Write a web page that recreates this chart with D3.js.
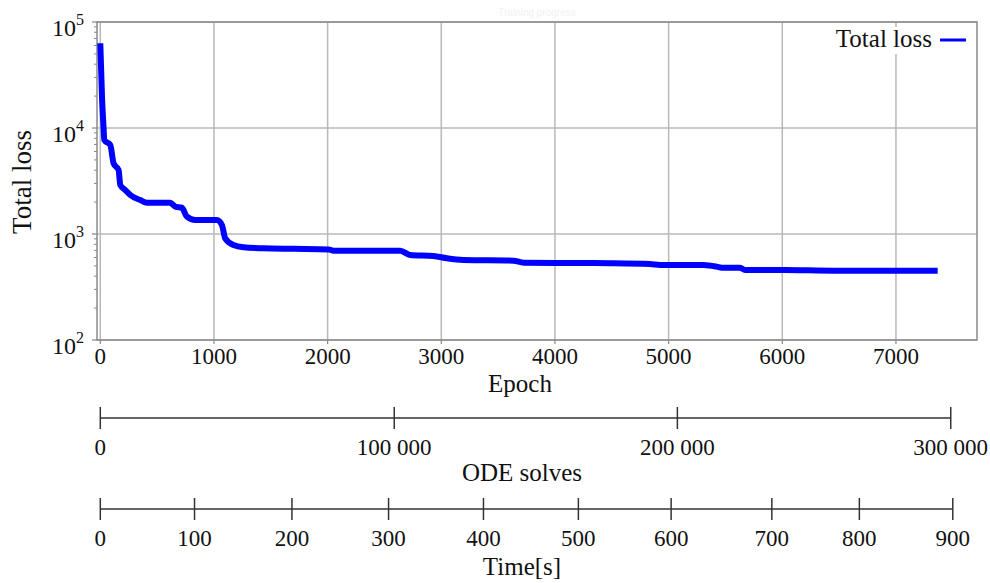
<!DOCTYPE html>
<html>
<head>
<meta charset="utf-8">
<script src="https://cdn.jsdelivr.net/npm/d3@7"></script>
<style>
  html, body { margin: 0; padding: 0; background: #fff; }
  svg { display: block; font-family: "Liberation Serif", "Times New Roman", serif; }
</style>
</head>
<body>
<svg id="chart" width="990" height="583"></svg>
<script>
// Training history: total loss per epoch (stepwise, log scale)
const epochs = [0, 15, 29, 35, 88, 117, 161, 176, 220, 264, 352, 411, 616, 660, 718, 762, 836, 1026, 1070, 1099, 1172, 1260, 1436, 1700, 2008, 2052, 2639, 2726, 2932, 3049, 3196, 3636, 3724, 4222, 4485, 4837, 4925, 5306, 5424, 5468, 5629, 5673, 6010, 6450, 7367];
const totalLoss = [63000, 19700, 10000, 7700, 6900, 4640, 4020, 2900, 2600, 2330, 2090, 1970, 1970, 1810, 1770, 1455, 1355, 1355, 1215, 910, 787, 749, 733, 725, 716, 696, 696, 634, 620, 590, 569, 560, 536, 532, 530, 521, 511, 511, 492, 481, 481, 457, 457, 451, 451];

// Epoch axis ticks
const epochTicks = [0, 1000, 2000, 3000, 4000, 5000, 6000, 7000];
const lossTicks = [100, 1000, 10000, 100000];

// Secondary axes: cumulative ODE solves and wall time, with the epoch at which each was reached
const odeTicks = [0, 100000, 200000, 300000];
const odeAtEpoch = [0, 2586, 5077, 7482];
const timeTicks = [0, 100, 200, 300, 400, 500, 600, 700, 800, 900];
const timeAtEpoch = [0, 829, 1686, 2536, 3371, 4206, 5022, 5908, 6678, 7500];

const svg = d3.select("#chart");
const plot = { left: 97, right: 977, top: 22, bottom: 340 };

const x = d3.scaleLinear().domain([-29, 7713]).range([plot.left, plot.right]);
const y = d3.scaleLog().domain([100, 100000]).range([plot.bottom, plot.top]);

// faint title
svg.append("text")
  .attr("x", 537).attr("y", 16)
  .attr("text-anchor", "middle")
  .attr("font-family", "Liberation Sans, Arial, sans-serif")
  .attr("font-size", 10)
  .attr("fill", "#f2f2f2")
  .text("Training progress");

// grid
const grid = svg.append("g").attr("stroke", "#b8b8b8").attr("stroke-width", 1.5);
grid.selectAll("line.vx").data(epochTicks).join("line")
  .attr("x1", d => x(d)).attr("x2", d => x(d))
  .attr("y1", plot.top).attr("y2", plot.bottom);
grid.selectAll("line.hy").data(lossTicks).join("line")
  .attr("x1", plot.left).attr("x2", plot.right)
  .attr("y1", d => y(d)).attr("y2", d => y(d));

// minor ticks on the log axis
const minor = [];
for (let p = 100; p < 100000; p *= 10) for (let k = 2; k <= 9; k++) minor.push(p * k);
svg.append("g").attr("stroke", "#888").attr("stroke-width", 1)
  .selectAll("line").data(minor).join("line")
  .attr("x1", plot.left - 3).attr("x2", plot.left)
  .attr("y1", d => y(d)).attr("y2", d => y(d));
svg.append("g").attr("stroke", "#888").attr("stroke-width", 1.2)
  .selectAll("line").data(lossTicks).join("line")
  .attr("x1", plot.left - 5).attr("x2", plot.left)
  .attr("y1", d => y(d)).attr("y2", d => y(d));
svg.append("g").attr("stroke", "#888").attr("stroke-width", 1.2)
  .selectAll("line").data(epochTicks).join("line")
  .attr("x1", d => x(d)).attr("x2", d => x(d))
  .attr("y1", plot.bottom).attr("y2", plot.bottom + 4);

// frame
svg.append("rect")
  .attr("x", plot.left).attr("y", plot.top)
  .attr("width", plot.right - plot.left).attr("height", plot.bottom - plot.top)
  .attr("fill", "none").attr("stroke", "#8a8a8a").attr("stroke-width", 1.5);

// loss curve
const line = d3.line().x((d, i) => x(epochs[i])).y(d => y(d)).curve(d3.curveMonotoneX);
svg.append("path")
  .datum(totalLoss)
  .attr("d", line)
  .attr("fill", "none")
  .attr("stroke", "#0000ff")
  .attr("stroke-width", 6)
  .attr("stroke-linejoin", "round")
  .attr("stroke-linecap", "butt");

// epoch tick labels
svg.append("g").selectAll("text").data(epochTicks).join("text")
  .attr("x", d => x(d)).attr("y", 364)
  .attr("text-anchor", "middle").attr("font-size", 23).attr("fill", "#111")
  .text(d => d);

// log tick labels 10^n
const yl = svg.append("g").selectAll("text").data(lossTicks).join("text")
  .attr("x", 84).attr("y", d => y(d) + 14)
  .attr("text-anchor", "end").attr("font-size", 24).attr("fill", "#111");
yl.append("tspan").text("10");
yl.append("tspan").attr("dy", -11).attr("font-size", 16).text(d => Math.round(Math.log10(d)));

// axis titles
svg.append("text")
  .attr("transform", "translate(31,182) rotate(-90)")
  .attr("text-anchor", "middle").attr("font-size", 27).attr("fill", "#111")
  .text("Total loss");
svg.append("text")
  .attr("x", 520).attr("y", 392)
  .attr("text-anchor", "middle").attr("font-size", 25).attr("fill", "#111")
  .text("Epoch");

// legend
const lg = svg.append("g");
lg.append("rect").attr("x", 826).attr("y", 27).attr("width", 148).attr("height", 27).attr("fill", "#fff");
lg.append("text").attr("x", 932).attr("y", 47).attr("text-anchor", "end")
  .attr("font-size", 25).attr("fill", "#111").text("Total loss");
lg.append("line").attr("x1", 940).attr("x2", 966).attr("y1", 40).attr("y2", 40)
  .attr("stroke", "#0000ff").attr("stroke-width", 3);

// secondary axes drawn through the epoch scale
const spaceFmt = d3.formatLocale({ decimal: ".", thousands: " ", grouping: [3], currency: ["", ""] }).format(",");
function secondaryAxis(ticks, atEpoch, yLine, labelY, title, titleY, fmt) {
  const s = d3.scaleLinear().domain(ticks).range(atEpoch.map(e => x(e)));
  const g = svg.append("g");
  g.append("line")
    .attr("x1", s(ticks[0])).attr("x2", s(ticks[ticks.length - 1]))
    .attr("y1", yLine).attr("y2", yLine)
    .attr("stroke", "#333").attr("stroke-width", 1.5);
  g.selectAll("line.t").data(ticks).join("line")
    .attr("x1", d => s(d)).attr("x2", d => s(d))
    .attr("y1", yLine - 11).attr("y2", yLine + 11)
    .attr("stroke", "#333").attr("stroke-width", 1.5);
  g.selectAll("text").data(ticks).join("text")
    .attr("x", d => s(d)).attr("y", labelY)
    .attr("text-anchor", "middle").attr("font-size", 23).attr("fill", "#111")
    .text(fmt);
  svg.append("text")
    .attr("x", 522).attr("y", titleY)
    .attr("text-anchor", "middle").attr("font-size", 25).attr("fill", "#111")
    .text(title);
}
secondaryAxis(odeTicks, odeAtEpoch, 418, 455, "ODE solves", 481, d => spaceFmt(d));
secondaryAxis(timeTicks, timeAtEpoch, 509, 546, "Time[s]", 575, d => d);
</script>
</body>
</html>
